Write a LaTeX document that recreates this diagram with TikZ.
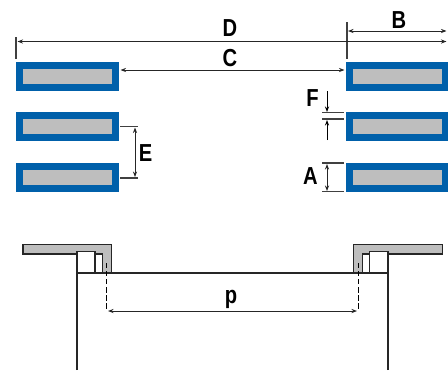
\documentclass[tikz,border=0pt]{standalone}
\usepackage{fontspec}
\setmainfont{Liberation Sans}
\usetikzlibrary{arrows.meta}
\tikzset{>={Stealth[scale=.6]}}
\definecolor{padblue}{RGB}{0,96,170}
\definecolor{padgray}{RGB}{190,190,190}
\tikzset{
  pad/.style={draw=padblue, fill=padgray, line width=.14cm, minimum width=1.92cm, minimum height=.44cm, inner sep=0pt},
  dimline/.style={<->, line width=.5pt, black!85},
  tickline/.style={line width=.6pt, black!75},
  letter/.style={font=\bfseries\fontsize{14}{14}\selectfont, xscale=.82, inner sep=0pt},
  lead/.style={line width=.85pt, black!85}
}
\begin{document}
\begin{tikzpicture}[x=.02cm, y=-.02cm]
      \useasboundingbox (0, 0) rectangle (448, 370);
      % pads
      \foreach \name/\ypos in {1/76.5, 2/126.5, 3/177.5} {
        \node[pad] (left\name) at (67.5, \ypos) {};
        \node[pad] (right\name) at (397, \ypos) {};
      }
      % end points
      \coordinate (ticktopl) at (16, 37);
      \coordinate (tickbotl) at (16, 59);
      \coordinate (ticktopr) at (347, 22);
      \coordinate (tickbotr) at (347, 59);
      \coordinate (dl) at (17.5, 41.5);
      \coordinate (dr) at (446.5, 41.5);
      \coordinate (bl) at (348, 31);
      \coordinate (br) at (446.5, 31);
      \coordinate (cl) at (120.5, 70);
      \coordinate (cr) at (344.5, 70);
      \coordinate (eu) at (120, 126.5);
      \coordinate (eutip) at (135, 127.5);
      \coordinate (eue) at (138, 126.5);
      \coordinate (ed) at (120, 178);
      \coordinate (edtip) at (135, 177);
      \coordinate (ede) at (138, 178);
      \coordinate (fa) at (322, 112.5);
      \coordinate (fae) at (344, 112.5);
      \coordinate (fb) at (322, 119);
      \coordinate (fbe) at (344, 119);
      \coordinate (fatip) at (327, 112);
      \coordinate (fbtip) at (327, 120);
      \coordinate (fastart) at (327, 91);
      \coordinate (fbstart) at (327, 140);
      \coordinate (aa) at (322, 163);
      \coordinate (aae) at (344, 163);
      \coordinate (ab) at (322, 191.5);
      \coordinate (abe) at (344, 191.5);
      \coordinate (aatip) at (327, 164);
      \coordinate (abtip) at (327, 191);
      \coordinate (dashl) at (106.5, 263);
      \coordinate (dashlend) at (106.5, 311);
      \coordinate (dashr) at (358.5, 263);
      \coordinate (dashrend) at (358.5, 311);
      \coordinate (pl) at (108, 311);
      \coordinate (pr) at (357, 311);
      % ticks
      \draw[tickline] (ticktopl) -- (tickbotl);
      \draw[tickline] (ticktopr) -- (tickbotr);
      \draw[tickline] (eu) -- (eue);
      \draw[tickline] (ed) -- (ede);
      \draw[tickline] (fa) -- (fae);
      \draw[tickline] (fb) -- (fbe);
      \draw[tickline] (aa) -- (aae);
      \draw[tickline] (ab) -- (abe);
      % arrows
      \draw[dimline] (dl) -- (dr);
      \draw[dimline] (bl) -- (br);
      \draw[dimline] (cl) -- (cr);
      \draw[dimline] (eutip) -- (edtip);
      \draw[dimline] (aatip) -- (abtip);
      \draw[->, line width=.5pt] (fastart) -- (fatip);
      \draw[->, line width=.5pt] (fbstart) -- (fbtip);
      % flanges
      \draw[lead, fill=padgray] (23, 244.5) -- (111.5, 244.5) -- (111.5, 273) -- (102.5, 273)
        -- (102.5, 254) -- (95, 254) -- (95, 251.5) -- (77, 251.5) -- (77, 254) -- (23, 254) -- cycle;
      \draw[lead, fill=padgray] (442.5, 244.5) -- (353.5, 244.5) -- (353.5, 273) -- (362.5, 273)
        -- (362.5, 254) -- (369.5, 254) -- (369.5, 251.5) -- (388, 251.5) -- (388, 254) -- (442.5, 254) -- cycle;
      % leads
      \draw[lead] (77, 370) -- (77, 251.5) -- (95, 251.5) -- (95, 273);
      \draw[lead] (388, 370) -- (388, 251.5) -- (369.5, 251.5) -- (369.5, 273);
      \draw[lead] (77, 273) -- (388, 273);
      % inner dims
      \draw[line width=.55pt, dash pattern=on 3pt off 1.6pt] (dashl) -- (dashlend);
      \draw[line width=.55pt, dash pattern=on 3pt off 1.6pt] (dashr) -- (dashrend);
      \draw[dimline] (pl) -- (pr);
      % labels
      \node[letter] (labD) at (230, 28) {D};
      \node[letter] (labB) at (399, 20) {B};
      \node[letter] (labC) at (230, 58) {C};
      \node[letter] (labE) at (145.5, 153) {E};
      \node[letter] (labF) at (312.5, 98) {F};
      \node[letter] (labA) at (310.5, 176) {A};
      \node[letter] (labp) at (231, 299) {p};
    \end{tikzpicture}
\end{document}
